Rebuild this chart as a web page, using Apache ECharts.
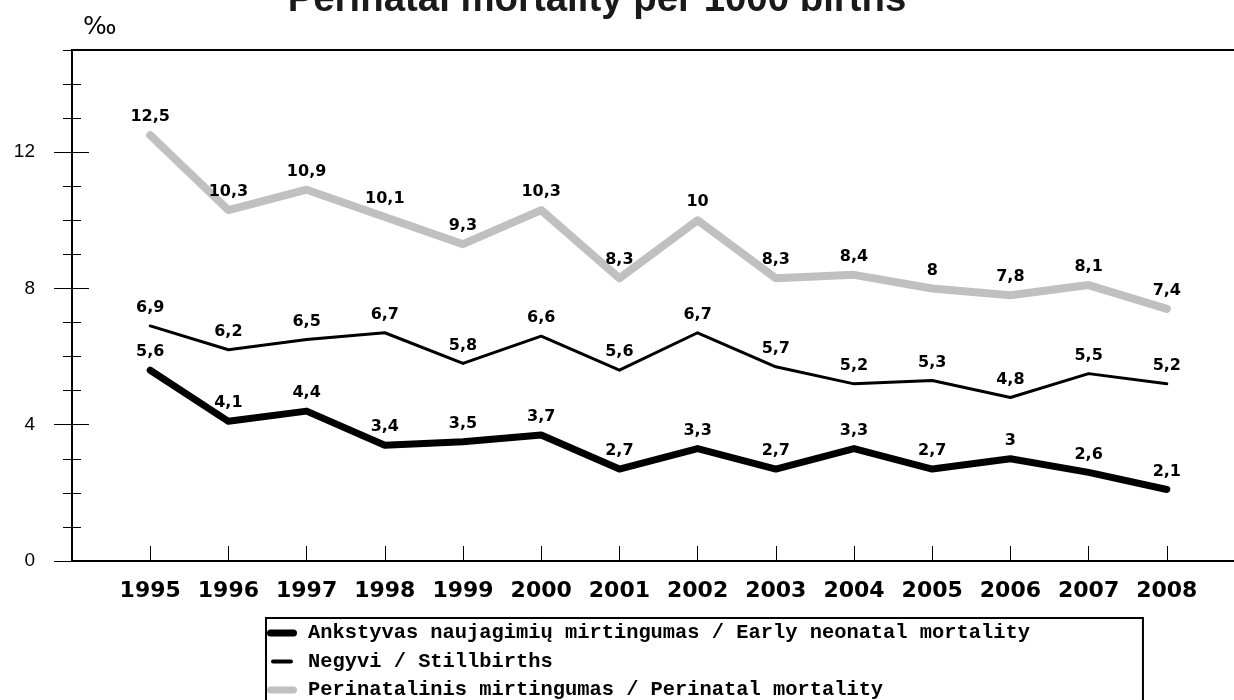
<!DOCTYPE html>
<html>
<head>
<meta charset="utf-8">
<script src="https://cdn.jsdelivr.net/npm/echarts@6/dist/echarts.min.js"></script>
<style>html,body{margin:0;padding:0;background:#fff}#c{width:1234px;height:700px}</style>
</head>
<body>
<div id="c"></div>
<script>
const years = [1995,1996,1997,1998,1999,2000,2001,2002,2003,2004,2005,2006,2007,2008];
const earlyNeonatal = [5.6,4.1,4.4,3.4,3.5,3.7,2.7,3.3,2.7,3.3,2.7,3,2.6,2.1];
const stillbirths = [6.9,6.2,6.5,6.7,5.8,6.6,5.6,6.7,5.7,5.2,5.3,4.8,5.5,5.2];
const perinatal = [12.5,10.3,10.9,10.1,9.3,10.3,8.3,10,8.3,8.4,8,7.8,8.1,7.4];
const yLabelTicks = [0,4,8,12];
const yMajorInside = [4,8,12];
const yMinorInside = [1,2,3,5,6,7,9,10,11,13,14];
const seriesNames = [
  'Perinatalinis mirtingumas / Perinatal mortality',
  'Negyvi / Stillbirths',
  'Ankstyvas naujagimių mirtingumas / Early neonatal mortality'
];

const chart = echarts.init(document.getElementById('c'), null, {renderer:'canvas'});
const toPairs = arr => years.map((y,i)=>[y, arr[i]]);
const fmt = p => String(p.value[1]).replace('.', ',');
const labelStyle = {show:true, position:'top', distance:9, formatter:fmt,
  fontFamily:'DejaVu Sans', fontWeight:'bold', fontSize:16, color:'#000'};

function mkSeries(name, data, color, width){
  return {
    name, type:'line', data:toPairs(data), yAxisIndex:0,
    symbol:'circle', symbolSize:2, showSymbol:true,
    itemStyle:{color},
    lineStyle:{color, width, cap:'round', join:'round'},
    label:labelStyle, emphasis:{disabled:true}, silent:true
  };
}

const baseY = {type:'value', min:0, max:15, interval:1, position:'left', offset:0,
  splitLine:{show:false}, axisLabel:{show:false}, axisLine:{show:false}};

chart.setOption({
  animation:false,
  backgroundColor:'#fff',
  title:{text:'Perinatal mortality per 1000 births', left:592, textAlign:'center', top:-24,
    textStyle:{fontFamily:'Liberation Sans', fontWeight:'bold', fontSize:38.4, color:'#1a1a1a'}},
  graphic:[{type:'text', left:83, top:15, style:{text:'‰', fontFamily:'DejaVu Sans', fontSize:25, fill:'#000'}}],
  grid:{left:72, width:1173, top:50, bottom:139, show:true, borderColor:'#000', borderWidth:2,
    containLabel:false, outerBoundsMode:'none'},
  xAxis:{type:'value', min:1994, max:2009, interval:1,
    axisLine:{show:true, lineStyle:{color:'#000', width:2}},
    axisTick:{show:true, inside:true, length:15, customValues:years, lineStyle:{color:'#000', width:1}},
    axisLabel:{show:true, customValues:years, margin:19, formatter:v=>String(v),
      fontFamily:'DejaVu Sans', fontWeight:'bold', fontSize:22, color:'#000'},
    splitLine:{show:false}},
  yAxis:[
    Object.assign({}, baseY, {
      axisLine:{show:true, lineStyle:{color:'#000', width:2}},
      axisTick:{show:true, inside:false, length:9, lineStyle:{color:'#000', width:1}},
      axisLabel:{show:true, customValues:yLabelTicks, margin:37, formatter:v=>String(v),
        fontFamily:'Liberation Sans', fontSize:19, color:'#000'}
    }),
    Object.assign({}, baseY, {axisTick:{show:true, inside:true, length:9, customValues:yMinorInside, lineStyle:{color:'#000', width:1}}}),
    Object.assign({}, baseY, {axisTick:{show:true, inside:false, length:18, customValues:yLabelTicks, lineStyle:{color:'#000', width:1}}}),
    Object.assign({}, baseY, {axisTick:{show:true, inside:true, length:17, customValues:yMajorInside, lineStyle:{color:'#000', width:1}}})
  ],
  legend:{
    orient:'vertical', left:266, top:618, height:120, itemWidth:30, itemHeight:14, itemGap:8.5,
    padding:[5,113,30,1], borderColor:'#000', borderWidth:2, selectedMode:false,
    textStyle:{fontFamily:'Liberation Mono', fontWeight:'bold', fontSize:20.4, color:'#000', padding:[0,0,0,6]},
    data:[
      {name:seriesNames[2], icon:'path://M3.5,0H26.5A3.5,3.5 0 0 1 26.5,7H3.5A3.5,3.5 0 0 1 3.5,0Z'},
      {name:seriesNames[1], icon:'path://M0,0L0,0ZM30,4L30,4ZM6,0H24A2,2 0 0 1 24,4H6A2,2 0 0 1 6,0Z'},
      {name:seriesNames[0], icon:'path://M3.5,0H26.5A3.5,3.5 0 0 1 26.5,7H3.5A3.5,3.5 0 0 1 3.5,0Z'}
    ]
  },
  series:[
    mkSeries(seriesNames[0], perinatal, '#c0c0c0', 8),
    mkSeries(seriesNames[1], stillbirths, '#000', 3),
    mkSeries(seriesNames[2], earlyNeonatal, '#000', 7)
  ]
});
</script>
</body>
</html>
